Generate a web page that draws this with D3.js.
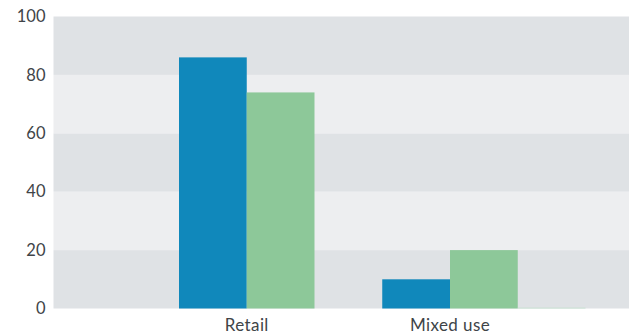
<!DOCTYPE html>
<html>
<head>
<meta charset="utf-8">
<script src="https://cdn.jsdelivr.net/npm/d3@7"></script>
<style>
html,body{margin:0;padding:0;background:#fff;}
svg{display:block;}
text{font-family:"Lato","Open Sans",sans-serif;}
</style>
</head>
<body>
<svg id="chart" width="629" height="335"></svg>
<script>
const categories = ["Retail", "Mixed use"];
const seriesNames = ["Series A", "Series B", "Series C"];
const seriesA = [86, 10];
const seriesB = [74, 20];
const seriesC = [0, 0.3];
const yTicks = [0, 20, 40, 60, 80, 100];
const colors = ["#1088bb", "#8dc899", "#c4dfcd"];

const W = 629, H = 335;
const plot = {left: 53.5, right: 629, top: 16.5, bottom: 308.5};
const svg = d3.select("#chart");

const y = d3.scaleLinear().domain([0, 100]).range([plot.bottom, plot.top]);
const x0 = d3.scaleBand().domain(categories).range([179, 585.5]).padding(0);
const x1 = d3.scaleBand().domain(seriesNames).range([0, x0.bandwidth()]).padding(0);

// background bands
const bands = d3.pairs(yTicks);
svg.append("g").selectAll("rect").data(bands).join("rect")
  .attr("x", plot.left).attr("width", plot.right - plot.left)
  .attr("y", d => y(d[1])).attr("height", d => y(d[0]) - y(d[1]))
  .attr("fill", (d, i) => i % 2 === 0 ? "#dfe2e5" : "#edeef0");

const table = categories.map((c, i) => ({cat: c, values: [seriesA[i], seriesB[i], seriesC[i]]}));

svg.append("g").selectAll("g").data(table).join("g")
  .attr("transform", d => `translate(${x0(d.cat)},0)`)
  .selectAll("rect").data(d => d.values.map((v, j) => ({s: seriesNames[j], v, j})))
  .join("rect")
  .attr("x", d => x1(d.s)).attr("width", x1.bandwidth())
  .attr("y", d => y(d.v)).attr("height", d => y(0) - y(d.v))
  .attr("fill", d => colors[d.j]);

// y axis
const yAxis = d3.axisLeft(y).tickValues(yTicks).tickSize(0).tickPadding(8);
const gy = svg.append("g").attr("transform", `translate(${plot.left},0)`).call(yAxis);
gy.select(".domain").remove();
gy.selectAll("text").attr("fill", "#404448").style("font-size", "16.5px").style("font-family", "Lato, sans-serif");

// x labels
svg.append("g").selectAll("text").data(categories).join("text")
  .attr("x", d => x0(d) + x1.bandwidth())
  .attr("y", 331)
  .attr("text-anchor", "middle")
  .attr("fill", "#404448")
  .style("font-size", "17px")
  .style("letter-spacing", "0.4px")
  .text(d => d);
</script>
</body>
</html>
